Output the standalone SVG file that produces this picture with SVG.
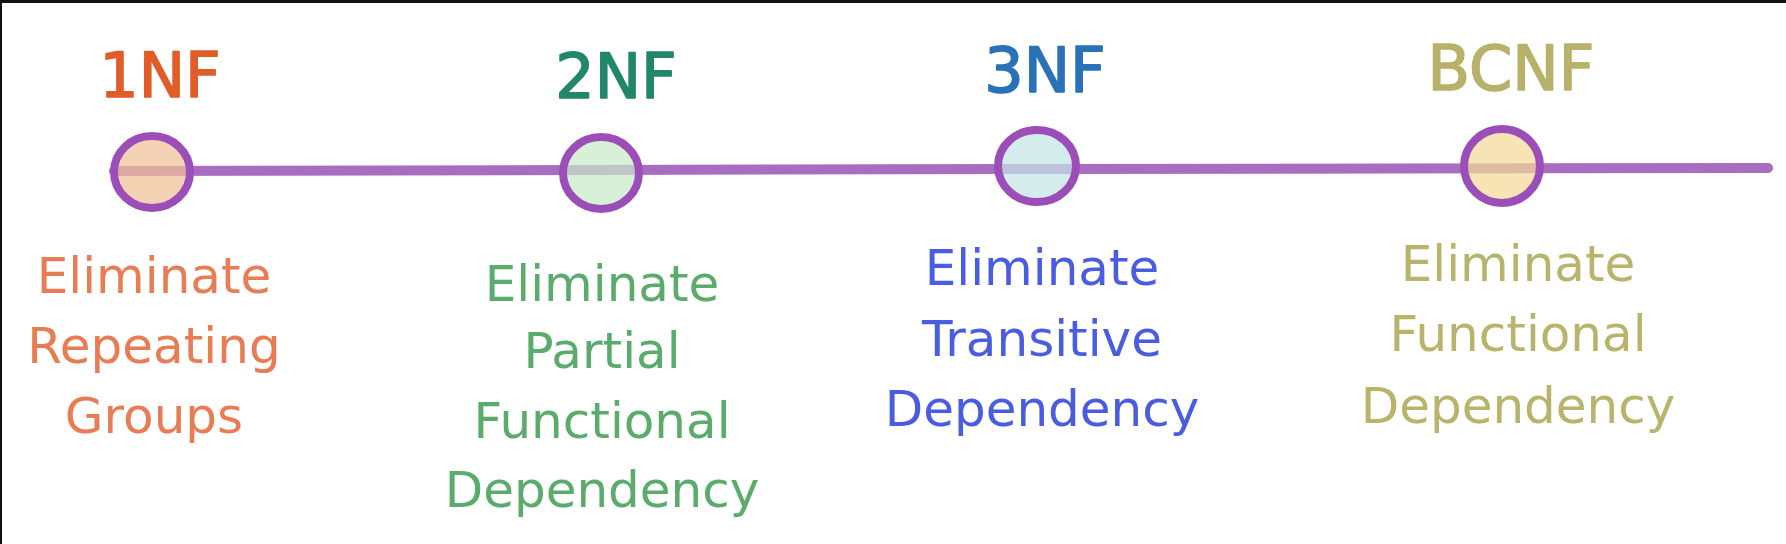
<svg xmlns="http://www.w3.org/2000/svg" width="1786" height="544" viewBox="0 0 1786 544">
  <style>
    .title { font-family: "DejaVu Sans", "Liberation Sans", sans-serif; font-size: 62px; text-anchor: middle; stroke-width: 1.6; stroke-linejoin: round; }
    .desc { font-family: "DejaVu Sans", "Liberation Sans", sans-serif; font-size: 50px; text-anchor: middle; }
    .ring { stroke: #9b4db8; stroke-width: 8; }
    .fillc { fill-opacity: 0.72; stroke: none; }
    .timeline { stroke: #a86cc1; stroke-width: 10; stroke-linecap: round; fill: none; }
  </style>
  <rect x="0" y="0" width="1786" height="544" fill="#ffffff"/>
  <rect x="0" y="0" width="1786" height="3" fill="#111111"/>
  <rect x="0" y="0" width="2" height="544" fill="#111111"/>

  <g id="connectors">
    <path class="timeline" d="M114 171 L 1030 169 L 1768 168"/>
  </g>

  <g id="node-1nf">
    <ellipse class="fillc" cx="152" cy="172" rx="38" ry="36" fill="#f2c197"/>
    <ellipse cx="152" cy="172" rx="38" ry="36" fill="none" class="ring"/>
    <text class="title" x="160" y="97" fill="#e05c28" stroke="#e05c28">1NF</text>
    <text class="desc" x="154" y="293" fill="#e87d55">Eliminate</text>
    <text class="desc" x="154" y="363" fill="#e87d55">Repeating</text>
    <text class="desc" x="154" y="433" fill="#e87d55">Groups</text>
  </g>

  <g id="node-2nf">
    <ellipse class="fillc" cx="601" cy="173" rx="38" ry="36" fill="#c9e9c9"/>
    <ellipse cx="601" cy="173" rx="38" ry="36" fill="none" class="ring"/>
    <text class="title" x="616" y="98" fill="#22876a" stroke="#22876a">2NF</text>
    <text class="desc" x="602" y="301" fill="#5bab6c">Eliminate</text>
    <text class="desc" x="602" y="368" fill="#5bab6c">Partial</text>
    <text class="desc" x="602" y="438" fill="#5bab6c">Functional</text>
    <text class="desc" x="602" y="507" fill="#5bab6c">Dependency</text>
  </g>

  <g id="node-3nf">
    <ellipse class="fillc" cx="1037" cy="166" rx="39" ry="36" fill="#c4e5e5"/>
    <ellipse cx="1037" cy="166" rx="39" ry="36" fill="none" class="ring"/>
    <text class="title" x="1045" y="92" fill="#2a72b8" stroke="#2a72b8">3NF</text>
    <text class="desc" x="1042" y="285" fill="#4a5ce0">Eliminate</text>
    <text class="desc" x="1042" y="356" fill="#4a5ce0">Transitive</text>
    <text class="desc" x="1042" y="426" fill="#4a5ce0">Dependency</text>
  </g>

  <g id="node-bcnf">
    <ellipse class="fillc" cx="1502" cy="166" rx="38" ry="37" fill="#f2da97"/>
    <ellipse cx="1502" cy="166" rx="38" ry="37" fill="none" class="ring"/>
    <text class="title" x="1511" y="90" fill="#b7b16a" stroke="#b7b16a">BCNF</text>
    <text class="desc" x="1518" y="281" fill="#b9b46c">Eliminate</text>
    <text class="desc" x="1518" y="351" fill="#b9b46c">Functional</text>
    <text class="desc" x="1518" y="423" fill="#b9b46c">Dependency</text>
  </g>
</svg>
